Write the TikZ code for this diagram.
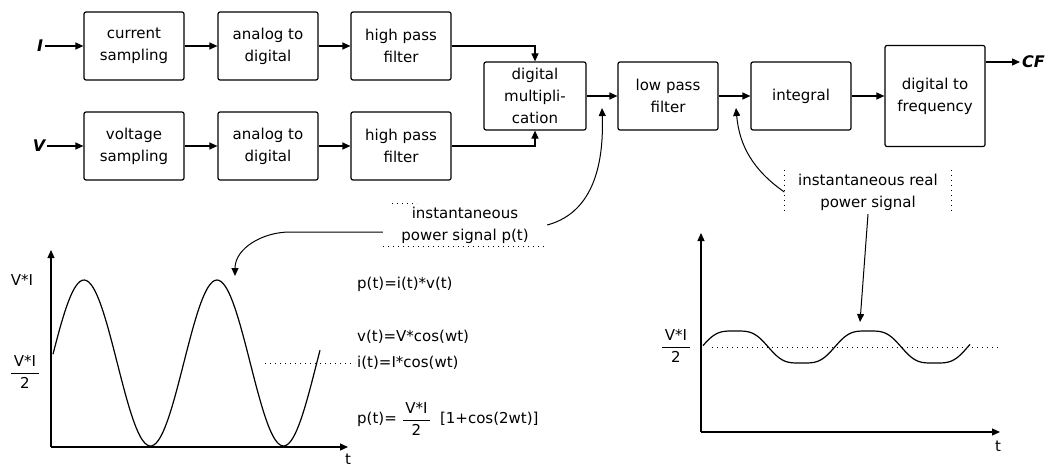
\documentclass[tikz,border=0pt]{standalone}
\usepackage{fontspec}
\setmainfont{DejaVu Sans}
\usetikzlibrary{arrows.meta}

\newcommand{\vifrac}{\begin{tabular}{@{\,}c@{\,}}V*I\\\hline 2\end{tabular}}

\begin{document}
\begin{tikzpicture}[x=1pt,y=-1pt,
    font=\fontsize{15}{22}\selectfont,
    every node/.style={inner sep=2pt},
    blk/.style={draw,rounded corners=2pt,line width=1.2pt,align=center,
      minimum width=100pt,minimum height=68pt},
    lab/.style={font=\fontsize{16}{22}\selectfont\bfseries\itshape},
    arr/.style={-{Triangle[length=8pt,width=7pt]},line width=1.2pt},
    curvarr/.style={-{Triangle[length=8pt,width=7pt]},line width=1pt},
    dots/.style={line width=1pt,dash pattern=on 1pt off 4pt},
    wave/.style={line width=1.2pt},
    declare function={flat(\t)=1.5*cos(\t)-0.5*cos(\t)*cos(\t)*cos(\t);}]
  \useasboundingbox (0,0) rectangle (1059,468);

  \node[lab] (I) at (40,46) {I};
  \node[lab] (V) at (39,146) {V};
  \node[blk] (cs) at (134,46) {current\\sampling};
  \node[blk] (ad1) at (268,46) {analog to\\digital};
  \node[blk] (hp1) at (401,46) {high pass\\filter};
  \node[blk] (vs) at (134,146) {voltage\\sampling};
  \node[blk] (ad2) at (268,146) {analog to\\digital};
  \node[blk] (hp2) at (401,146) {high pass\\filter};
  \node[blk,minimum width=102pt] (mul) at (535,96) {digital\\multipli-\\cation};
  \node[blk] (lp) at (668,96) {low pass\\filter};
  \node[blk] (ig) at (801,96) {integral};
  \node[blk,minimum height=101pt] (df) at (935,96) {digital to\\frequency};
  \node[lab,anchor=west] (CF) at (1020,62) {CF};

  \draw[arr] (I) -- (cs);
  \draw[arr] (V) -- (vs);
  \draw[arr] (cs) -- (ad1);
  \draw[arr] (ad1) -- (hp1);
  \draw[arr] (vs) -- (ad2);
  \draw[arr] (ad2) -- (hp2);
  \draw[arr] (hp1.east) -| (mul.north);
  \draw[arr] (hp2.east) -| (mul.south);
  \draw[arr] (mul) -- (lp);
  \draw[arr] (lp) -- (ig);
  \draw[arr] (ig) -- (df);
  \draw[arr] (df.east |- CF) -- (CF);

  \coordinate (j1) at (602,108);
  \coordinate (j2) at (736,108);
  \coordinate (pk) at (235,276);
  \coordinate (hump) at (860,322);

  \node[align=center,minimum width=164pt,minimum height=42pt] (pslab) at (465,225)
    {instantaneous\\power signal p(t)};
  \draw[dots] (pslab.south west) -- (pslab.south east);
  \draw[dots] ([xshift=9pt]pslab.north west) -- ++(25,0);
  \draw[curvarr] (pslab.east) to[out=15,in=-88] (j1);
  \draw[curvarr] ([yshift=-7pt]pslab.west) -- (290,232) to[out=180,in=90] (pk);

  \node[align=center,minimum width=167pt,minimum height=44pt] (rlab) at (868,192)
    {instantaneous real\\power signal};
  \draw[dots] (rlab.north west) -- (rlab.south west);
  \draw[dots] (rlab.north east) -- (rlab.south east);
  \draw[curvarr] (rlab.west) to[out=145,in=-85] (j2);
  \draw[curvarr] (rlab.south) -- (hump);

  % left chart
  \coordinate (o1) at (51,447);
  \draw[arr] (o1) -- (51,250);
  \draw[arr] (o1) -- (348,447);
  \node[inner sep=0pt] (t1) at (348,459) {t};
  \node (vi1) at (22,280) {V*I};
  \node (h1) at (25,373) {\vifrac};
  \draw[wave] plot[domain=53:320,samples=120,smooth] (\x,{363-83*cos((\x-84)*2.707)});
  \node[anchor=west] (eq1) at (355,284) {p(t)=i(t)*v(t)};
  \node[anchor=west] (eq2) at (355,337) {v(t)=V*cos(wt)};
  \node[anchor=west] (eq3) at (355,363) {i(t)=I*cos(wt)};
  \node[anchor=west] (eq4) at (355,420) {p(t)=\hspace{6pt}\vifrac\hspace{10pt}[1+cos(2wt)]};
  \draw[dots] (265,363) -- (eq3.west);

  % right chart
  \coordinate (o2) at (701,432);
  \draw[arr] (o2) -- (701,233);
  \draw[arr] (o2) -- (1000,432);
  \node (t2) at (998,446) {t};
  \node (h2) at (676,347) {\vifrac};
  \draw[dots] (712,347) -- (1000,347);
  \draw[wave] plot[domain=703:970,samples=120,smooth] (\x,{347-16*flat((\x-735)*2.707)});
\end{tikzpicture}
\end{document}
